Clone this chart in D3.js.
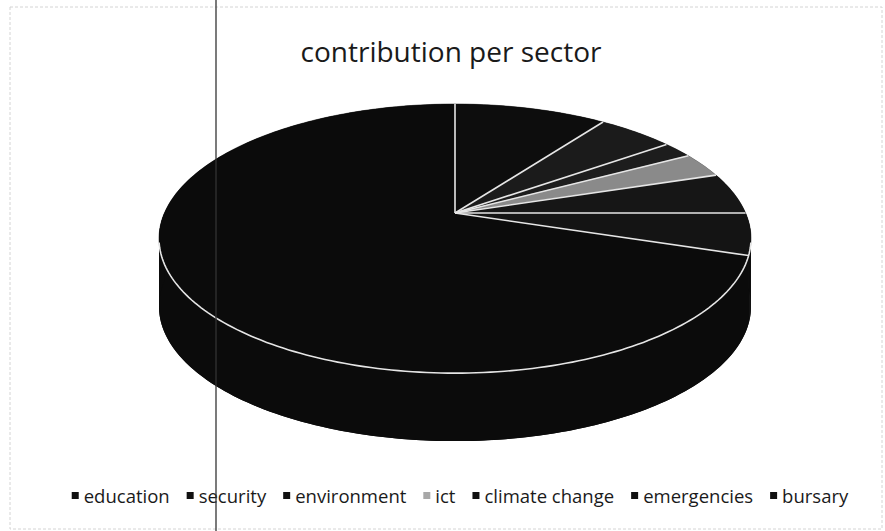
<!DOCTYPE html>
<html lang="en">
<head>
<meta charset="utf-8">
<title>contribution per sector</title>
<style>
body { margin: 0; background: #fff; }
svg text { font-family: "Open Sans", "Liberation Sans", sans-serif; fill: #1a1a1a; }
</style>
</head>
<body>
<div id="chartID"></div>
<script src="https://d3js.org/d3.v7.min.js"></script>
<script>
// data
var categories = ["education", "security", "environment", "ict", "climate change", "emergencies", "bursary"];
var values = [10, 5, 2, 3, 5, 5, 70];
var colors = ["#0d0d0d", "#1b1b1b", "#1d1d1d", "#8a8a8a", "#161616", "#141414", "#0b0b0b"];

var W = 885, H = 531;
var svg = d3.select("#chartID").append("svg").attr("width", W).attr("height", H);

// chart frame (faint, like the scanned original)
svg.append("rect")
    .attr("x", 10).attr("y", 7).attr("width", 872).attr("height", 522)
    .attr("fill", "none").attr("stroke", "#d4d4d4").attr("stroke-dasharray", "3,2");

// title
svg.append("text")
    .attr("x", 451).attr("y", 62)
    .attr("text-anchor", "middle")
    .style("font-size", "28px")
    .text("contribution per sector");

// tilted pie: circle point -> screen, with a little perspective
var cx = 455, cy = 213, A = 290.6, B = 129.7, k = 0.19, depth = 68;
function proj(a, drop) {
    var u = Math.sin(a), v = -Math.cos(a), w = 1 - k * v;
    return [cx + A * u / w, cy + B * v / w + (drop || 0)];
}
function ring(a0, a1, drop) {
    var n = Math.max(2, Math.ceil(Math.abs(a1 - a0) / 0.02));
    return d3.range(n + 1).map(function(i) { return proj(a0 + (a1 - a0) * i / n, drop); });
}

var pie = d3.pie().sort(null).value(function(d) { return d; });
var arcs = pie(values);
var line = d3.line();

// body of the cylinder
var all = ring(0, 2 * Math.PI, 0).concat(ring(0, 2 * Math.PI, depth));
svg.append("path")
    .attr("d", line(d3.polygonHull(all)) + "Z")
    .attr("fill", colors[6]);

// front wall, per slice
var lo = Math.PI / 2, hi = 3 * Math.PI / 2;
arcs.forEach(function(d, i) {
    var a0 = Math.max(d.startAngle, lo), a1 = Math.min(d.endAngle, hi);
    if (a1 <= a0) return;
    var pts = ring(a0, a1, 0).concat(ring(a1, a0, depth));
    svg.append("path").attr("d", line(pts) + "Z").attr("fill", colors[i]);
});

// top face slices
arcs.forEach(function(d, i) {
    var pts = [[cx, cy]].concat(ring(d.startAngle, d.endAngle, 0));
    svg.append("path")
        .attr("d", line(pts) + "Z")
        .attr("fill", colors[i])
        .attr("stroke", colors[i]).attr("stroke-width", 0.5);
});

// white slice borders on top
arcs.forEach(function(d) {
    var p = proj(d.startAngle, 0);
    svg.append("line")
        .attr("x1", cx).attr("y1", cy).attr("x2", p[0]).attr("y2", p[1])
        .attr("stroke", "#e6e6e6").attr("stroke-width", 1.6);
});

// white rim along the front edge
svg.append("path")
    .attr("d", line(ring(Math.PI * 0.57, Math.PI * 1.43, 0)))
    .attr("fill", "none").attr("stroke", "#e6e6e6").attr("stroke-width", 1.6);

// legend
var legend = svg.append("g");
var x = 0, gap = 17;
categories.forEach(function(c, i) {
    var g = legend.append("g");
    g.append("rect").attr("x", 0).attr("y", -11).attr("width", 7).attr("height", 7)
        .attr("fill", i === 3 ? "#a8a8a8" : "#111");
    var t = g.append("text").attr("x", 12).attr("y", 0).style("font-size", "18.5px").text(c);
    g.attr("transform", "translate(" + x + ",0)");
    x += 12 + t.node().getComputedTextLength() + gap;
});
var total = x - gap;
legend.attr("transform", "translate(" + (460 - total / 2) + ",503)");

// scanner line
svg.append("line")
    .attr("x1", 216).attr("y1", 0).attr("x2", 216).attr("y2", H)
    .attr("stroke", "#333").attr("stroke-width", 1.3);
</script>
</body>
</html>
